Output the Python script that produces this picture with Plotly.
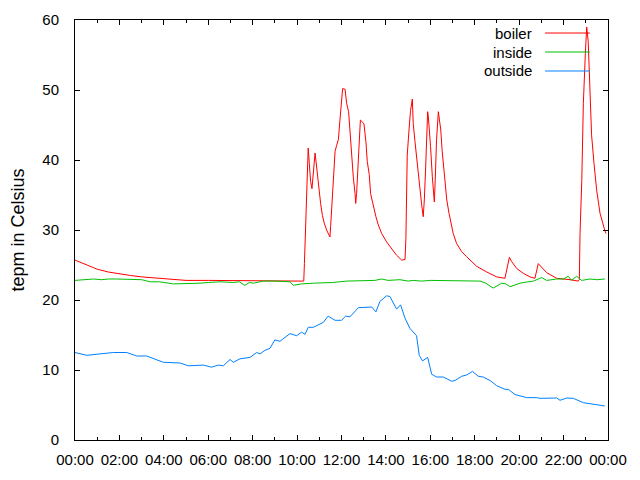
import pandas as pd
import plotly.graph_objects as go

# readings, hours since midnight -> degrees Celsius
boiler_hours = [0.0, 0.5, 1.0, 1.5, 2.0, 2.5, 3.0, 3.5, 4.0, 4.5, 5.0, 6.0, 7.0, 7.7, 8.0, 9.0, 9.5, 9.8, 10.3,
                10.33, 10.38, 10.42, 10.45, 10.50, 10.55, 10.61, 10.67, 10.73, 10.81, 10.88, 10.96, 11.06, 11.14,
                11.22, 11.33, 11.48, 11.51, 11.56, 11.60, 11.65, 11.71, 11.78, 11.86, 11.93, 11.98, 12.05, 12.16,
                12.23, 12.32, 12.38, 12.46, 12.53, 12.61, 12.64, 12.68, 12.76, 12.85, 13.01, 13.10, 13.16, 13.25,
                13.31, 13.43, 13.55, 13.66, 13.81, 14.03, 14.26, 14.48, 14.71, 14.86, 14.90, 14.93, 14.96, 15.04,
                15.11, 15.19, 15.23, 15.31, 15.38, 15.46, 15.53, 15.61, 15.68, 15.73, 15.79, 15.84, 15.88, 15.91,
                15.95, 16.01, 16.09, 16.13, 16.18, 16.22, 16.28, 16.36, 16.40, 16.47, 16.53, 16.59, 16.66, 16.74,
                16.84, 16.93, 17.03, 17.18, 17.41, 17.63, 18.09, 18.54, 18.99, 19.36, 19.44, 19.56, 19.66, 19.89,
                20.19, 20.49, 20.71, 20.86, 21.24, 21.69, 22.29, 22.66, 22.71, 22.74, 22.82, 22.89, 22.98, 23.04,
                23.11, 23.15, 23.19, 23.26, 23.37, 23.49, 23.64, 23.79, 23.86, 23.91]
boiler_temp = [25.7, 25.0, 24.4, 24.0, 23.7, 23.5, 23.3, 23.2, 23.0, 22.9, 22.8, 22.8, 22.8, 22.8, 22.7, 22.7, 22.8, 22.7, 22.7,
               25.2, 29.8, 34.8, 39.3, 41.7, 39.5, 36.9, 35.9, 38.1, 41.0, 39.0, 36.2, 33.8, 32.1,
               31.0, 30.0, 29.0, 30.5, 33.3, 36.2, 39.0, 41.2, 42.1, 42.9, 45.7, 47.4, 50.2, 50.1,
               48.1, 46.9, 44.0, 40.0, 37.6, 35.2, 33.8, 35.2, 41.2, 45.7, 45.2, 42.6, 39.8, 37.9,
               35.2, 33.3, 31.9, 30.7, 29.5, 28.3, 27.4, 26.4, 25.7, 25.8, 28.8, 34.8, 40.7, 44.3,
               47.1, 48.7, 45.2, 42.6, 40.5, 37.6, 35.2, 33.6, 31.9, 34.3, 39.0, 45.2, 46.9, 46.2,
               44.8, 41.9, 37.6, 35.2, 34.0, 37.1, 42.9, 46.9, 46.0, 44.3, 41.4, 39.0, 36.2, 34.3,
               32.4, 31.0, 29.5, 28.1, 26.9, 26.2, 24.8, 24.0, 23.3, 23.1, 24.3, 26.1, 25.5, 24.5,
               23.8, 23.3, 23.1, 25.2, 23.9, 23.1, 22.9, 22.7, 22.9, 29.5, 37.1, 48.1, 55.2, 59.0,
               56.9, 53.8, 49.0, 43.6, 39.5, 35.7, 32.4, 30.5, 29.9, 29.5]

inside_hours = [0.0, 0.5, 0.83, 1.2, 1.5, 1.88, 2.5, 3.0, 3.38, 3.8, 4.43, 5.0, 5.63, 6.0, 6.53, 7.13, 7.4, 7.65,
                7.85, 8.03, 8.25, 8.48, 9.0, 9.38, 9.6, 9.68, 9.83, 10.2, 10.73, 11.18, 11.6, 12.23, 12.7, 13.13,
                13.5, 13.81, 14.1, 14.63, 15.0, 15.23, 15.6, 16.0, 16.5, 17.0, 17.6, 18.24, 18.5, 18.83, 19.21,
                19.4, 19.59, 20.04, 20.4, 20.64, 21.01, 21.24, 21.69, 22.0, 22.21, 22.36, 22.59, 22.81, 23.0,
                23.19, 23.5, 23.86]
inside_temp = [22.8, 22.9, 23.0, 22.9, 23.0, 23.0, 22.9, 22.9, 22.6, 22.6, 22.3, 22.3, 22.4, 22.5, 22.6, 22.5, 22.6, 22.1,
               22.5, 22.4, 22.6, 22.7, 22.7, 22.7, 22.7, 22.6, 22.1, 22.3, 22.4, 22.4, 22.5, 22.7, 22.7, 22.8,
               22.8, 23.0, 22.8, 22.9, 22.7, 22.8, 22.7, 22.8, 22.8, 22.8, 22.8, 22.7, 22.4, 21.7, 22.4,
               22.3, 21.9, 22.4, 22.6, 22.7, 23.2, 22.8, 23.0, 23.0, 23.4, 22.8, 23.4, 22.8, 22.9,
               23.0, 22.9, 23.0]

outside_hours = [0.0, 0.53, 1.13, 1.73, 2.33, 2.78, 3.23, 3.53, 3.98, 4.73, 5.10, 5.78, 6.15, 6.45, 6.68, 6.98, 7.13,
                 7.43, 7.88, 8.18, 8.33, 8.55, 8.78, 9.0, 9.23, 9.68, 9.98, 10.2, 10.36, 10.5, 10.73, 11.18, 11.4,
                 11.71, 12.0, 12.19, 12.38, 12.76, 13.21, 13.36, 13.55, 13.73, 14.03, 14.18, 14.48, 14.66, 14.86,
                 15.08, 15.38, 15.5, 15.65, 15.88, 16.06, 16.28, 16.58, 16.96, 17.11, 17.41, 17.64, 17.9, 18.16,
                 18.38, 18.69, 18.99, 19.36, 19.51, 19.81, 20.34, 20.79, 20.94, 21.69, 21.84, 22.14, 22.44, 22.89,
                 23.34, 23.86]
outside_temp = [12.5, 12.1, 12.3, 12.5, 12.5, 12.0, 12.0, 11.6, 11.1, 11.0, 10.6, 10.7, 10.4, 10.7, 10.6, 11.5, 11.1,
                11.6, 11.8, 12.5, 12.3, 12.8, 13.1, 14.3, 14.1, 15.2, 14.9, 15.4, 15.1, 16.1, 16.1, 16.8, 17.7,
                17.1, 17.1, 17.7, 17.6, 18.9, 18.9, 19.0, 18.3, 19.8, 20.6, 20.5, 18.7, 19.3, 17.4,
                15.95, 14.9, 12.1, 11.3, 11.8, 9.4, 9.0, 9.0, 8.4, 8.5, 9.1, 9.3, 9.8, 9.1,
                9.0, 8.5, 7.76, 7.24, 7.24, 6.5, 6.05, 6.05, 5.95, 6.0, 5.67, 6.0, 5.95, 5.33,
                5.1, 4.86]

series_names = ["boiler", "inside", "outside"]
series_colors = ["#ff0000", "#00c000", "#0080ff"]

day = pd.Timestamp("2000-01-01")


def to_time(hours):
    return [day + pd.Timedelta(hours=h) for h in hours]


fig = go.Figure()
for name, color, hrs, vals in zip(series_names, series_colors,
                                  [boiler_hours, inside_hours, outside_hours],
                                  [boiler_temp, inside_temp, outside_temp]):
    fig.add_trace(go.Scatter(x=to_time(hrs), y=vals, mode="lines", name=name,
                             line=dict(color=color, width=1), showlegend=False))

# gnuplot-style key: text right-aligned, line sample to its right
for i, (name, color) in enumerate(zip(series_names, series_colors)):
    yk = 0.969 - i * 0.0452
    fig.add_annotation(x=0.857, y=yk, xref="paper", yref="paper", text=name, showarrow=False,
                       xanchor="right", yanchor="middle", xshift=2, font=dict(size=15, color="#000000"))
    fig.add_shape(type="line", xref="paper", yref="paper", x0=0.882, x1=0.966, y0=yk, y1=yk,
                  line=dict(color=color, width=1))

# page body adds an 8px offset, so the figure is 8px smaller each way
fig.update_layout(
    width=632, height=472, autosize=False,
    margin=dict(l=67, r=32, t=12, b=40),
    plot_bgcolor="white", paper_bgcolor="white",
    font=dict(family="Liberation Sans, Arial, sans-serif", size=15, color="#000000"),
)
fig.update_xaxes(
    type="date", range=[day, day + pd.Timedelta(hours=24)], automargin=False,
    dtick=2 * 3600000, tickformat="%H:%M", ticklabelstandoff=6,
    showline=True, linecolor="black", linewidth=1, mirror="allticks",
    ticks="inside", ticklen=5, tickcolor="black", showgrid=False, zeroline=False,
    minor=dict(dtick=3600000, ticks="inside", ticklen=3, tickcolor="black", showgrid=False),
)
fig.update_yaxes(
    range=[0, 60], dtick=10, automargin=False, ticklabelstandoff=12,
    title=dict(text="tepm in Celsius", standoff=17),
    showline=True, linecolor="black", linewidth=1, mirror="allticks",
    ticks="inside", ticklen=5, tickcolor="black", showgrid=False, zeroline=False,
)

fig.write_html("out.html")
